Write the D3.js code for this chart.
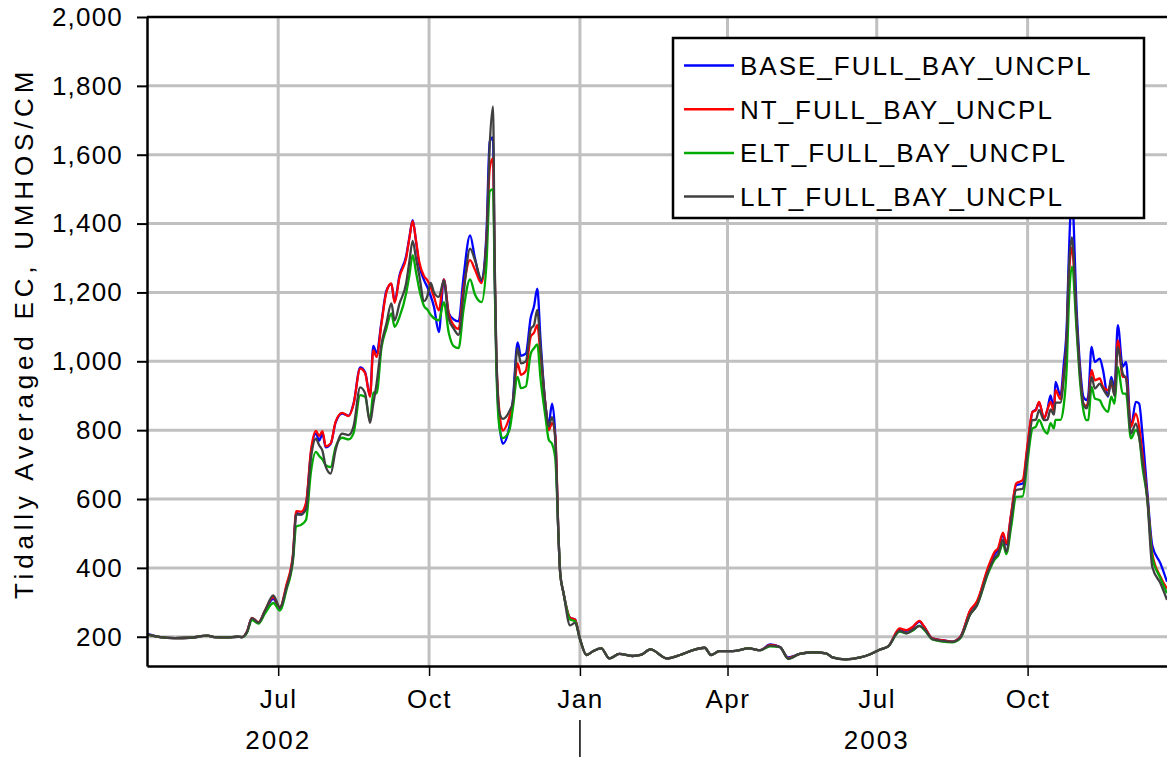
<!DOCTYPE html>
<html>
<head>
<meta charset="utf-8">
<script src="https://cdn.jsdelivr.net/npm/d3@7"></script>
<style>
  body { margin: 0; background: white; }
  text { font-family: Arial, "Liberation Sans", sans-serif; }
</style>
</head>
<body>
<div id="chart"></div>
<script>
// tidally averaged EC, four scenarios, Apr 2002 - Dec 2003

var seriesNames = ["BASE_FULL_BAY_UNCPL", "NT_FULL_BAY_UNCPL", "ELT_FULL_BAY_UNCPL", "LLT_FULL_BAY_UNCPL"]
var seriesColors = ["#0000ff", "#ff0000", "#00aa00", "#404040"]
var yTicks = [200, 400, 600, 800, 1000, 1200, 1400, 1600, 1800, 2000]
var years = ["2002", "2003"]

var dates = [
  "2002-04-12", "2002-04-20", "2002-04-29", "2002-05-08", "2002-05-19", "2002-05-23", "2002-05-31", "2002-06-06", "2002-06-09", "2002-06-12",
  "2002-06-15", "2002-06-19", "2002-06-23", "2002-06-28", "2002-07-02", "2002-07-06", "2002-07-10", "2002-07-12", "2002-07-15", "2002-07-18",
  "2002-07-21", "2002-07-24", "2002-07-26", "2002-07-28", "2002-07-30", "2002-08-02", "2002-08-05", "2002-08-09", "2002-08-13", "2002-08-16",
  "2002-08-20", "2002-08-23", "2002-08-26", "2002-08-28", "2002-08-30", "2002-09-02", "2002-09-05", "2002-09-08", "2002-09-10", "2002-09-13",
  "2002-09-17", "2002-09-19", "2002-09-21", "2002-09-23", "2002-09-25", "2002-09-28", "2002-09-30", "2002-10-02", "2002-10-04", "2002-10-07",
  "2002-10-10", "2002-10-13", "2002-10-16", "2002-10-19", "2002-10-22", "2002-10-26", "2002-10-29", "2002-11-02", "2002-11-05", "2002-11-07",
  "2002-11-09", "2002-11-10", "2002-11-11", "2002-11-13", "2002-11-15", "2002-11-19", "2002-11-21", "2002-11-24", "2002-11-26", "2002-11-29",
  "2002-12-02", "2002-12-04", "2002-12-06", "2002-12-08", "2002-12-11", "2002-12-13", "2002-12-15", "2002-12-17", "2002-12-19", "2002-12-20",
  "2002-12-22", "2002-12-26", "2002-12-29", "2003-01-01", "2003-01-05", "2003-01-09", "2003-01-14", "2003-01-19", "2003-01-25", "2003-02-02",
  "2003-02-07", "2003-02-13", "2003-02-23", "2003-03-03", "2003-03-11", "2003-03-18", "2003-03-22", "2003-03-27", "2003-04-04", "2003-04-14",
  "2003-04-21", "2003-04-27", "2003-05-03", "2003-05-08", "2003-05-15", "2003-05-23", "2003-05-31", "2003-06-04", "2003-06-12", "2003-06-21",
  "2003-06-27", "2003-07-03", "2003-07-08", "2003-07-15", "2003-07-19", "2003-07-23", "2003-07-27", "2003-07-30", "2003-08-04", "2003-08-10",
  "2003-08-16", "2003-08-21", "2003-08-27", "2003-08-31", "2003-09-07", "2003-09-11", "2003-09-13", "2003-09-16", "2003-09-18", "2003-09-21",
  "2003-09-24", "2003-09-28", "2003-10-01", "2003-10-04", "2003-10-06", "2003-10-08", "2003-10-11", "2003-10-13", "2003-10-15", "2003-10-17",
  "2003-10-18", "2003-10-21", "2003-10-23", "2003-10-25", "2003-10-26", "2003-10-28", "2003-10-31", "2003-11-02", "2003-11-04", "2003-11-06",
  "2003-11-07", "2003-11-09", "2003-11-11", "2003-11-14", "2003-11-16", "2003-11-19", "2003-11-21", "2003-11-23", "2003-11-25", "2003-11-28",
  "2003-11-30", "2003-12-03", "2003-12-06", "2003-12-08", "2003-12-10", "2003-12-13", "2003-12-16", "2003-12-21", "2003-12-25"
]

var base = [
  208, 199, 196, 197, 203, 199, 198, 200, 199, 215,
  254, 241, 275, 310, 282, 345, 432, 560, 555, 585,
  735, 790, 770, 790, 750, 760, 822, 848, 842, 878,
  982, 968, 900, 1045, 1025, 1115, 1205, 1225, 1175, 1250,
  1305, 1360, 1410, 1350, 1280, 1235, 1215, 1190, 1158, 1085,
  1238, 1140, 1122, 1116, 1244, 1366, 1299, 1233, 1372, 1638,
  1650, 1250, 1010, 816, 761, 811, 880, 1055, 1016, 1022,
  1127, 1160, 1211, 1060, 872, 820, 877, 783, 483, 383,
  327, 255, 250, 194, 147, 158, 166, 137, 150, 144,
  147, 163, 137, 147, 161, 168, 147, 158, 158, 166,
  161, 178, 170, 140, 150, 155, 152, 140, 134, 140,
  149, 163, 172, 222, 217, 227, 244, 228, 195, 190,
  186, 200, 275, 298, 398, 440, 452, 495, 468, 555,
  640, 645, 752, 853, 860, 880, 834, 858, 901, 858,
  940, 901, 989, 1119, 1284, 1480, 1139, 984, 897, 887,
  900, 1042, 998, 1008, 974, 897, 955, 920, 1105, 984,
  998, 810, 882, 877, 790, 620, 466, 413, 360
]

var nt = [
  207, 199, 196, 197, 203, 199, 198, 200, 199, 215,
  255, 242, 277, 315, 285, 350, 440, 565, 563, 590,
  742, 798, 783, 797, 753, 761, 824, 850, 841, 876,
  979, 966, 897, 1032, 1013, 1110, 1201, 1226, 1170, 1245,
  1299, 1357, 1407, 1352, 1289, 1247, 1235, 1215, 1187, 1148,
  1238, 1138, 1105, 1094, 1211, 1294, 1266, 1227, 1349, 1560,
  1590, 1280, 1020, 849, 799, 838, 875, 994, 961, 972,
  1072, 1083, 1105, 1016, 872, 800, 820, 783, 483, 383,
  327, 255, 250, 194, 147, 158, 166, 137, 150, 144,
  147, 163, 137, 147, 161, 168, 147, 158, 158, 166,
  161, 176, 170, 138, 150, 155, 152, 140, 134, 140,
  149, 163, 172, 224, 219, 229, 246, 229, 195, 190,
  186, 200, 277, 302, 403, 447, 457, 502, 471, 558,
  645, 655, 761, 853, 858, 882, 834, 858, 882, 855,
  916, 890, 960, 1080, 1230, 1330, 1100, 960, 877, 870,
  887, 974, 945, 950, 926, 916, 935, 906, 1061, 955,
  955, 810, 848, 810, 732, 606, 442, 374, 340
]

var elt = [
  206, 199, 196, 197, 203, 199, 198, 200, 199, 212,
  248, 238, 268, 298, 276, 335, 420, 520, 525, 540,
  680, 737, 725, 715, 698, 693, 751, 778, 773, 792,
  902, 897, 827, 910, 907, 1040, 1095, 1139, 1100, 1129,
  1197, 1250, 1308, 1260, 1210, 1160, 1150, 1135, 1125, 1119,
  1172, 1083, 1044, 1038, 1149, 1238, 1194, 1172, 1283, 1494,
  1500, 1240, 990, 805, 777, 800, 860, 955, 922, 927,
  1022, 1038, 1049, 949, 838, 772, 760, 716, 483, 383,
  327, 250, 245, 194, 147, 158, 166, 137, 150, 144,
  147, 163, 137, 147, 161, 168, 147, 158, 158, 166,
  161, 172, 170, 136, 150, 155, 152, 140, 134, 140,
  149, 163, 172, 215, 210, 218, 232, 220, 192, 186,
  184, 196, 265, 290, 385, 425, 435, 470, 440, 520,
  606, 608, 713, 805, 810, 830, 800, 790, 820, 805,
  830, 830, 870, 1000, 1150, 1275, 1080, 940, 858, 829,
  830, 926, 892, 887, 868, 853, 897, 877, 984, 906,
  906, 776, 800, 780, 694, 600, 432, 370, 326
]

var llt = [
  207, 199, 196, 197, 203, 199, 198, 200, 199, 214,
  254, 241, 276, 320, 285, 342, 428, 555, 555, 570,
  720, 775, 756, 740, 694, 674, 742, 790, 786, 812,
  924, 907, 821, 877, 935, 1050, 1110, 1168, 1119, 1168,
  1226, 1290, 1350, 1300, 1250, 1175, 1190, 1228, 1200, 1187,
  1235, 1124, 1095, 1077, 1194, 1327, 1294, 1238, 1349, 1627,
  1740, 1300, 1030, 849, 833, 855, 880, 1038, 994, 1000,
  1094, 1105, 1149, 1038, 872, 811, 838, 770, 483, 383,
  327, 233, 240, 194, 147, 158, 166, 137, 150, 144,
  147, 163, 137, 147, 161, 168, 147, 158, 158, 166,
  161, 174, 170, 136, 150, 155, 152, 140, 134, 140,
  149, 163, 172, 217, 210, 220, 231, 222, 193, 188,
  185, 197, 265, 290, 390, 430, 440, 481, 447, 540,
  626, 630, 735, 829, 830, 858, 829, 830, 860, 845,
  880, 880, 950, 1090, 1250, 1360, 1110, 960, 877, 863,
  880, 955, 921, 935, 920, 900, 945, 900, 1042, 964,
  950, 790, 819, 781, 713, 600, 403, 355, 307
]

var allSeries = [base, nt, elt, llt]

var dimensions = {
    margin: { top: 17, left: 147 },
    width: 1020,
    height: 649
}

var parseDate = d3.timeParse("%Y-%m-%d")

var svg = d3.select("#chart")
    .append("svg")
    .attr("width", 1167)
    .attr("height", 757)

var x = d3.scaleTime()
    .domain([parseDate("2002-04-12"), parseDate("2003-12-25")])
    .range([dimensions.margin.left, dimensions.margin.left + dimensions.width])

var y = d3.scaleLinear()
    .domain([115, 2000])
    .range([dimensions.margin.top + dimensions.height, dimensions.margin.top])

var quarterTicks = x.ticks(d3.timeMonth.every(3))

// grid
svg.append("g")
    .selectAll("line")
    .data(yTicks.slice(0, -1))
    .enter()
    .append("line")
    .attr("x1", x.range()[0])
    .attr("x2", x.range()[1])
    .attr("y1", function (d) { return y(d) })
    .attr("y2", function (d) { return y(d) })
    .attr("stroke", "#c0c0c0")
    .attr("stroke-width", 3)

svg.append("g")
    .selectAll("line")
    .data(quarterTicks)
    .enter()
    .append("line")
    .attr("x1", function (d) { return x(d) })
    .attr("x2", function (d) { return x(d) })
    .attr("y1", y.range()[0])
    .attr("y2", y.range()[1])
    .attr("stroke", "#c0c0c0")
    .attr("stroke-width", 3)

// lines
svg.append("clipPath")
    .attr("id", "plotclip")
    .append("rect")
    .attr("x", x.range()[0])
    .attr("y", y.range()[1])
    .attr("width", dimensions.width)
    .attr("height", dimensions.height)

var line = d3.line()
    .x(function (d) { return x(d.date) })
    .y(function (d) { return y(d.value) })
    .curve(d3.curveMonotoneX)

for (var s = 0; s < allSeries.length; s++) {
    var pts = []
    for (var i = 0; i < dates.length; i++) {
        pts.push({ date: parseDate(dates[i]), value: allSeries[s][i] })
    }
    svg.append("path")
        .datum(pts)
        .attr("clip-path", "url(#plotclip)")
        .attr("fill", "none")
        .attr("stroke", seriesColors[s])
        .attr("stroke-width", 2.3)
        .attr("stroke-linejoin", "round")
        .attr("d", line)
}

// axes
var yAxis = svg.append("g")
    .attr("transform", "translate(" + dimensions.margin.left + ",0)")
    .call(d3.axisLeft(y).tickValues(yTicks).tickFormat(d3.format(",")).tickSize(10).tickSizeOuter(0).tickPadding(14))
yAxis.select(".domain").attr("stroke", "black").attr("stroke-width", 2.5)
yAxis.selectAll(".tick line").attr("stroke", "black").attr("stroke-width", 2)
yAxis.selectAll("text")
    .attr("font-size", "26px")
    .attr("letter-spacing", "1.2px")
    .attr("fill", "black")

var xAxis = svg.append("g")
    .attr("transform", "translate(0," + (dimensions.margin.top + dimensions.height) + ")")
    .call(d3.axisBottom(x).tickValues(quarterTicks).tickFormat(d3.timeFormat("%b")).tickSize(10).tickSizeOuter(0).tickPadding(14))
xAxis.select(".domain").attr("stroke", "black").attr("stroke-width", 2.5)
xAxis.selectAll(".tick line").attr("stroke", "black").attr("stroke-width", 1.5)
xAxis.selectAll("text")
    .attr("font-size", "26px")
    .attr("letter-spacing", "1.5px")
    .attr("fill", "black")

// top border
svg.append("line")
    .attr("x1", x.range()[0])
    .attr("x2", x.range()[1])
    .attr("y1", y.range()[1])
    .attr("y2", y.range()[1])
    .attr("stroke", "black")
    .attr("stroke-width", 2.5)

// years row
svg.append("g")
    .selectAll("text")
    .data(years)
    .enter()
    .append("text")
    .attr("x", function (d) { return x(parseDate(d + "-07-01")) })
    .attr("y", 749)
    .attr("text-anchor", "middle")
    .attr("font-size", "26px")
    .attr("letter-spacing", "2px")
    .text(function (d) { return d })

svg.append("g")
    .selectAll("line")
    .data(years.slice(1))
    .enter()
    .append("line")
    .attr("x1", function (d) { return x(parseDate(d + "-01-01")) })
    .attr("x2", function (d) { return x(parseDate(d + "-01-01")) })
    .attr("y1", 720)
    .attr("y2", 757)
    .attr("stroke", "black")
    .attr("stroke-width", 1.5)

// y title
svg.append("text")
    .attr("transform", "translate(33,333) rotate(-90)")
    .attr("text-anchor", "middle")
    .attr("font-size", "26px")
    .attr("letter-spacing", "4.8px")
    .text("Tidally Averaged EC, UMHOS/CM")

// legend
var legend = svg.append("g").attr("transform", "translate(673,38)")
legend.append("rect")
    .attr("width", 471)
    .attr("height", 180)
    .attr("fill", "white")
    .attr("stroke", "black")
    .attr("stroke-width", 2.5)

var rows = legend.selectAll("g.row")
    .data(seriesNames)
    .enter()
    .append("g")
    .attr("class", "row")
    .attr("transform", function (d, i) { return "translate(0," + (27.5 + i * 43.7) + ")" })
rows.append("line")
    .attr("x1", 11)
    .attr("x2", 61)
    .attr("stroke", function (d, i) { return seriesColors[i] })
    .attr("stroke-width", 2.5)
rows.append("text")
    .attr("x", 67)
    .attr("y", 9.5)
    .attr("font-size", "26px")
    .attr("letter-spacing", "2px")
    .text(function (d) { return d })
</script>
</body>
</html>
